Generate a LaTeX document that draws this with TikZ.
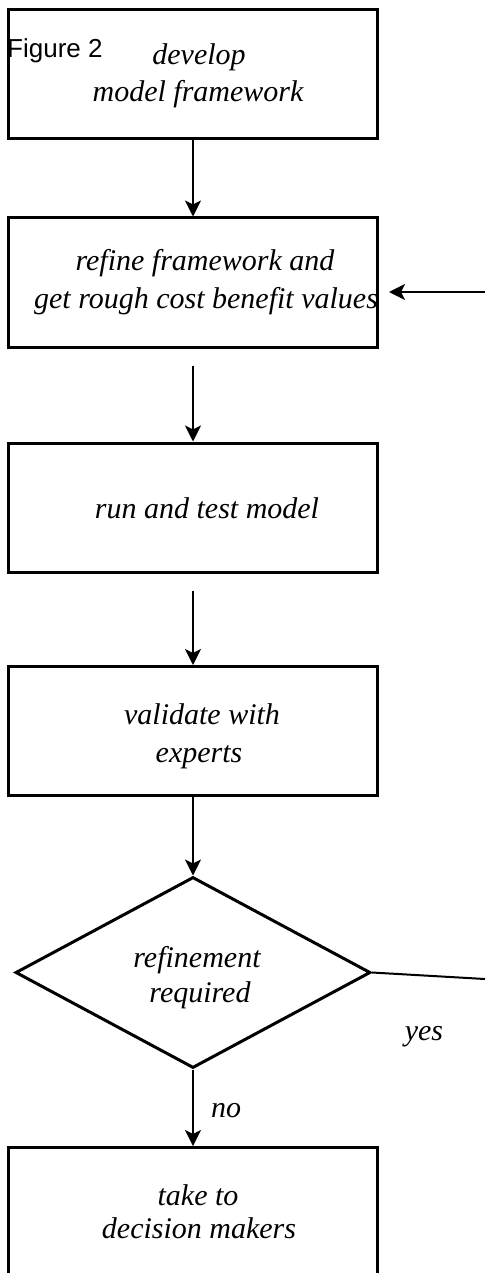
\documentclass[tikz,border=0pt]{standalone}
\usepackage{fontspec}
\setmainfont{Liberation Serif}
\newfontfamily\figsans{Liberation Sans}
\usetikzlibrary{arrows.meta,shapes.geometric}
\tikzset{
  stepbox/.style={draw=black, line width=3pt, minimum width=369pt, minimum height=129pt, inner sep=0pt},
  decide/.style={draw=black, line width=3pt, diamond, minimum width=355pt, minimum height=191pt, inner sep=0pt, aspect=1.86},
  lbl/.style={font=\fontsize{30}{36}\selectfont\itshape, inner sep=0pt, anchor=base},
  flow/.style={line width=2pt, -{Stealth[length=16pt,width=16pt,inset=4pt]}},
  plain/.style={line width=2pt}
}
\begin{document}
\begin{tikzpicture}[x=1pt,y=-1pt]
\clip (0,0) rectangle (485,1273);
\fill[white] (0,0) rectangle (485,1273);
% boxes
\node[stepbox, line width=3.5pt] (b1) at (193,74) {};
\node[stepbox] (b2) at (193,282.5) {};
\node[stepbox] (b3) at (193,507.5) {};
\node[stepbox] (b4) at (193,731) {};
\node[decide] (d) at (193,972.5) {};
\node[stepbox] (b5) at (193,1212) {};
% texts
\node[inner sep=0pt, anchor=base west, font=\figsans\fontsize{26}{30}\selectfont] (fig) at (7,58) {Figure 2};
\node[lbl] (t1a) at (199,65) {develop};
\node[lbl] (t1b) at (198,102) {model framework};
\node[lbl] (t2a) at (205,270) {refine framework and};
\node[lbl] (t2b) at (206,308) {get rough cost benefit values};
\node[lbl] (t3) at (207,518) {run and test model};
\node[lbl] (t4a) at (202,724) {validate with};
\node[lbl] (t4b) at (199,762) {experts};
\node[lbl] (t5a) at (197,967) {refinement};
\node[lbl] (t5b) at (200,1002) {required};
\node[lbl] (t6a) at (198,1205) {take to};
\node[lbl] (t6b) at (199,1238) {decision makers};
\node[lbl] (yes) at (424,1040) {yes};
\node[lbl] (no) at (226,1117) {no};
% connectors
\coordinate (fb) at (485,292);
\coordinate (ye) at (485,979);
\draw[flow] (b1.south) -- (b2.north);
\draw[flow, shorten <=17pt] (b2.south) -- (b3.north);
\draw[flow, shorten <=17pt] (b3.south) -- (b4.north);
\draw[flow] (b4.south) -- (d.north);
\draw[flow] (d.south) -- (b5.north);
\draw[plain] (d.east) -- (ye);
\draw[flow, shorten >=10pt] (fb) -- (b2.east |- fb);
\end{tikzpicture}
\end{document}
